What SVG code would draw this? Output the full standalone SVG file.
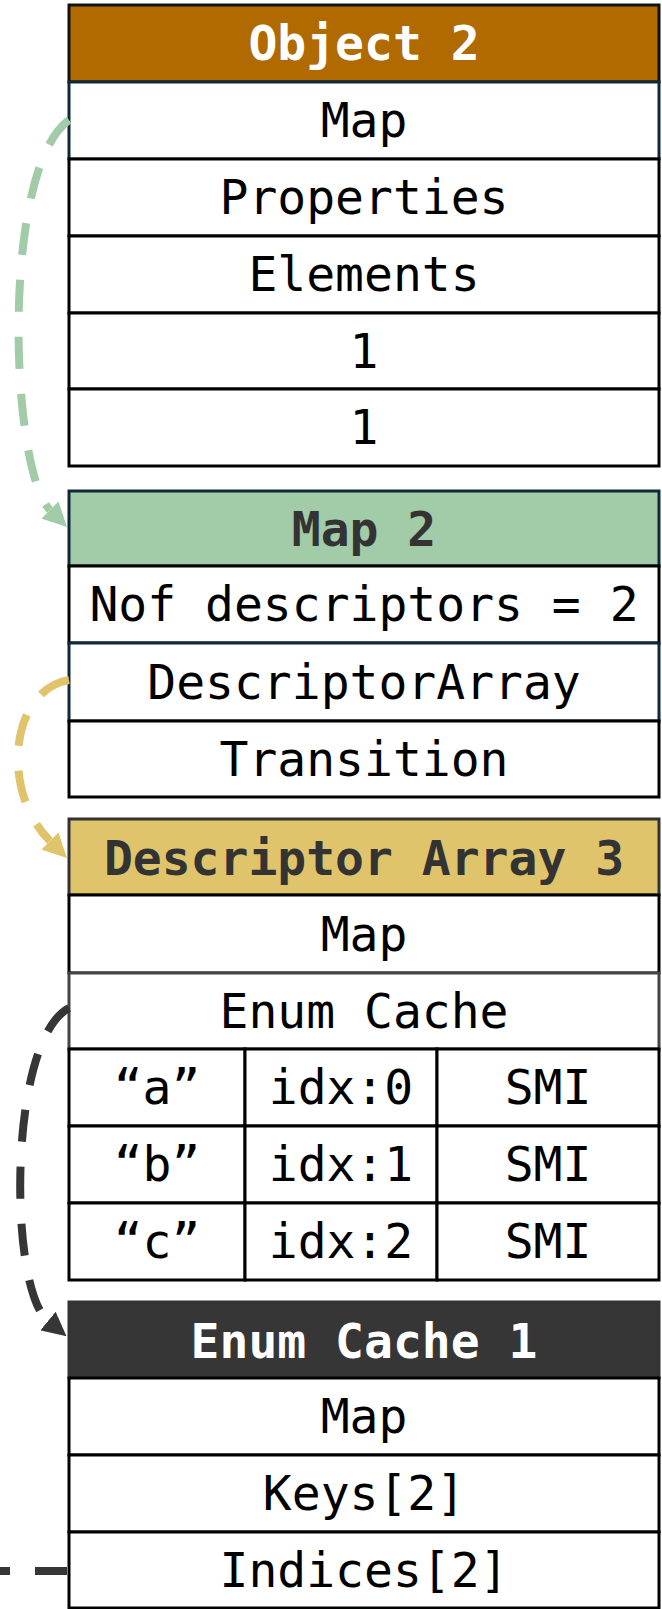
<svg xmlns="http://www.w3.org/2000/svg" width="662" height="1609" viewBox="0 0 662 1609">
<style>
.cell{fill:#ffffff;stroke:#000000;stroke-width:3}
.t{font-family:"DejaVu Sans Mono","Liberation Mono",monospace;font-size:48px;text-anchor:middle;fill:#000000}
.h{font-weight:bold}
.conn{fill:none;stroke-width:8;stroke-dasharray:32 25}
</style>
<defs>
<marker id="ag" markerUnits="userSpaceOnUse" markerWidth="24" markerHeight="24" viewBox="0 0 22 22" refX="0" refY="11" orient="auto"><path d="M0,0 L22,11 L0,22 z" fill="#a2cba8"/></marker>
<marker id="ay" markerUnits="userSpaceOnUse" markerWidth="24" markerHeight="24" viewBox="0 0 22 22" refX="0" refY="11" orient="auto"><path d="M0,0 L22,11 L0,22 z" fill="#e0c46c"/></marker>
<marker id="ad" markerUnits="userSpaceOnUse" markerWidth="24" markerHeight="24" viewBox="0 0 22 22" refX="0" refY="11" orient="auto"><path d="M0,0 L22,11 L0,22 z" fill="#363636"/></marker>
</defs>
<rect width="662" height="1609" fill="#ffffff"/>

<g id="object2">
<rect x="69" y="5" width="590" height="77" fill="#b06a00" stroke="#111111" stroke-width="3"/>
<text class="t h" x="364" y="60" style="fill:#ffffff">Object 2</text>
<rect class="cell" x="69" y="82" width="590" height="77" style="stroke:#10283a"/>
<text class="t" x="364" y="137">Map</text>
<rect class="cell" x="69" y="159" width="590" height="77"/>
<text class="t" x="364" y="214">Properties</text>
<rect class="cell" x="69" y="236" width="590" height="77"/>
<text class="t" x="364" y="291">Elements</text>
<rect class="cell" x="69" y="313" width="590" height="76"/>
<text class="t" x="364" y="368">1</text>
<rect class="cell" x="69" y="389" width="590" height="77"/>
<text class="t" x="364" y="444">1</text>
</g>

<g id="map2">
<rect x="69" y="491" width="590" height="75" fill="#a2cba8" stroke="#10283a" stroke-width="3"/>
<text class="t h" x="364" y="546" style="fill:#333333">Map 2</text>
<rect class="cell" x="69" y="566" width="590" height="77"/>
<text class="t" x="364" y="621">Nof descriptors = 2</text>
<rect class="cell" x="69" y="643" width="590" height="78" style="stroke:#10283a"/>
<text class="t" x="364" y="699">DescriptorArray</text>
<rect class="cell" x="69" y="721" width="590" height="76"/>
<text class="t" x="364" y="776">Transition</text>
</g>

<g id="descriptorArray3">
<rect x="69" y="819" width="590" height="76" fill="#e0c46c" stroke="#333333" stroke-width="3"/>
<text class="t h" x="364" y="875" style="fill:#333333">Descriptor Array 3</text>
<rect class="cell" x="69" y="895" width="590" height="78"/>
<text class="t" x="364" y="951">Map</text>
<rect class="cell" x="69" y="973" width="590" height="76" style="stroke:#444444"/>
<text class="t" x="364" y="1028">Enum Cache</text>
<rect class="cell" x="69" y="1049" width="176" height="77"/>
<text class="t" x="157" y="1104">“a”</text>
<rect class="cell" x="245" y="1049" width="192" height="77"/>
<text class="t" x="341" y="1104">idx:0</text>
<rect class="cell" x="437" y="1049" width="222" height="77"/>
<text class="t" x="548" y="1104">SMI</text>
<rect class="cell" x="69" y="1126" width="176" height="77"/>
<text class="t" x="157" y="1181">“b”</text>
<rect class="cell" x="245" y="1126" width="192" height="77"/>
<text class="t" x="341" y="1181">idx:1</text>
<rect class="cell" x="437" y="1126" width="222" height="77"/>
<text class="t" x="548" y="1181">SMI</text>
<rect class="cell" x="69" y="1203" width="176" height="77"/>
<text class="t" x="157" y="1258">“c”</text>
<rect class="cell" x="245" y="1203" width="192" height="77"/>
<text class="t" x="341" y="1258">idx:2</text>
<rect class="cell" x="437" y="1203" width="222" height="77"/>
<text class="t" x="548" y="1258">SMI</text>
</g>

<g id="enumCache1">
<rect x="69" y="1302" width="590" height="76" fill="#363636" stroke="#333333" stroke-width="3"/>
<text class="t h" x="364" y="1358" style="fill:#ffffff">Enum Cache 1</text>
<rect class="cell" x="69" y="1378" width="590" height="77"/>
<text class="t" x="364" y="1433">Map</text>
<rect class="cell" x="69" y="1455" width="590" height="77"/>
<text class="t" x="364" y="1510">Keys[2]</text>
<rect class="cell" x="69" y="1532" width="590" height="76"/>
<text class="t" x="364" y="1587">Indices[2]</text>
</g>

<g id="connectors">
<path class="conn" d="M69,120 C0,170 10,470 50,510" stroke="#a2cba8" marker-end="url(#ag)"/>
<path class="conn" d="M69,680 C10,690 0,791 50,841" stroke="#e0c46c" marker-end="url(#ay)"/>
<path class="conn" d="M69,1008 C8,1040 8,1288 48,1321" stroke="#363636" marker-end="url(#ad)"/>
<path class="conn" d="M67,1571 L0,1571" stroke="#363636"/>
</g>
</svg>
